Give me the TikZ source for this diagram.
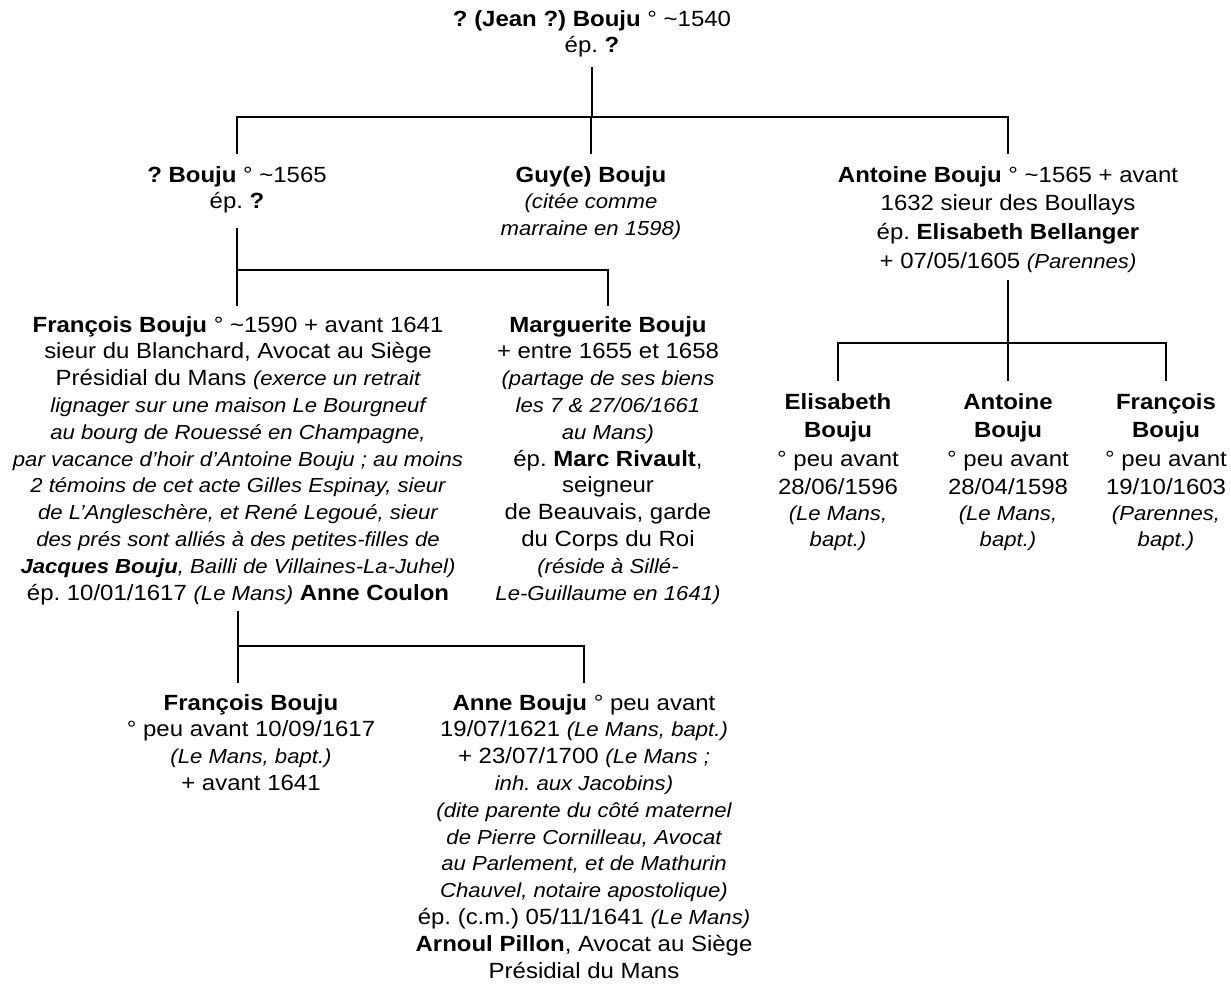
\documentclass[tikz,border=0pt]{standalone}
\usepackage{fontspec}
\setmainfont{Liberation Sans}[FakeStretch=1.09]
\usetikzlibrary{positioning}
% italic remarks in a smaller size
\newcommand{\rem}[1]{{\fontsize{20.3}{26.8}\selectfont\itshape #1}}

\begin{document}
\frenchspacing
\begin{tikzpicture}[
    x=1pt, y=-1pt,
    font=\fontsize{22}{26.8}\selectfont,
    person/.style={align=center, inner sep=0pt, anchor=north},
    loose/.style={font=\fontsize{22}{28.6}\selectfont},
    link/.style={line width=2.4pt, line cap=rect}
]
    \useasboundingbox (0,0) rectangle (1231,985);

    % generations
    \node[person] (top) at (592,10) {\textbf{? (Jean ?) Bouju} ° \textasciitilde1540\\ ép. \textbf{?}};

    \node[person] (c1) at (237,166) {\textbf{? Bouju} ° \textasciitilde1565\\ ép. \textbf{?}};
    \node[person] (c2) at (591,166) {\textbf{Guy(e) Bouju}\\ \rem{(citée comme}\\ \rem{marraine en 1598)}};
    \node[person, loose] (c3) at (1008,166) {\textbf{Antoine Bouju} ° \textasciitilde1565 + avant\\ 1632 sieur des Boullays\\
        ép. \textbf{Elisabeth Bellanger}\\[0.5pt] + 07/05/1605 \rem{(Parennes)}};

    \node[person] (g1) at (238,316) {\textbf{François Bouju} ° \textasciitilde1590 + avant 1641\\
        sieur du Blanchard, Avocat au Siège\\
        Présidial du Mans \rem{(exerce un retrait}\\
        \rem{lignager sur une maison Le Bourgneuf}\\
        \rem{au bourg de Rouessé en Champagne,}\\
        \rem{par vacance d’hoir d’Antoine Bouju ; au moins}\\
        \rem{2 témoins de cet acte Gilles Espinay, sieur}\\
        \rem{de L’Angleschère, et René Legoué, sieur}\\
        \rem{des prés sont alliés à des petites-filles de}\\
        \rem{\textbf{Jacques Bouju}, Bailli de Villaines-La-Juhel)}\\
        ép. 10/01/1617 \rem{(Le Mans)} \textbf{Anne Coulon}};
    \node[person] (g2) at (608,316) {\textbf{Marguerite Bouju}\\ + entre 1655 et 1658\\
        \rem{(partage de ses biens}\\ \rem{les 7 \& 27/06/1661}\\ \rem{au Mans)}\\
        ép. \textbf{Marc Rivault},\\ seigneur\\ de Beauvais, garde\\ du Corps du Roi\\
        \rem{(réside à Sillé-}\\ \rem{Le-Guillaume en 1641)}};

    \node[person, loose] (e1) at (838,393) {\textbf{Elisabeth}\\ \textbf{Bouju}\\ ° peu avant\\ 28/06/1596\\[-3pt] \rem{(Le Mans,}\\[-3pt] \rem{bapt.)}};
    \node[person, loose] (e2) at (1008,393) {\textbf{Antoine}\\ \textbf{Bouju}\\ ° peu avant\\ 28/04/1598\\[-3pt] \rem{(Le Mans,}\\[-3pt] \rem{bapt.)}};
    \node[person, loose] (e3) at (1166,393) {\textbf{François}\\ \textbf{Bouju}\\ ° peu avant\\ 19/10/1603\\[-3pt] \rem{(Parennes,}\\[-3pt] \rem{bapt.)}};

    \node[person] (f1) at (251,694) {\textbf{François Bouju}\\ ° peu avant 10/09/1617\\ \rem{(Le Mans, bapt.)}\\ + avant 1641};
    \node[person] (f2) at (584,694) {\textbf{Anne Bouju} ° peu avant\\ 19/07/1621 \rem{(Le Mans, bapt.)}\\
        + 23/07/1700 \rem{(Le Mans ;}\\ \rem{inh. aux Jacobins)}\\
        \rem{(dite parente du côté maternel}\\ \rem{de Pierre Cornilleau, Avocat}\\
        \rem{au Parlement, et de Mathurin}\\ \rem{Chauvel, notaire apostolique)}\\
        ép. (c.m.) 05/11/1641 \rem{(Le Mans)}\\ \textbf{Arnoul Pillon}, Avocat au Siège\\ Présidial du Mans};

    % bar levels
    \coordinate (bar0) at (0,117);
    \coordinate (bar1) at (0,270);
    \coordinate (bar2) at (0,343);
    \coordinate (bar3) at (0,646);

    % family of top
    \draw[link] ([yshift=-10pt]top.south) -- (top.south |- bar0);
    \draw[link] (c1.north |- bar0) -- (c3.north |- bar0);
    \foreach \k in {c1,c2,c3}
        \draw[link] (\k.north |- bar0) -- ([yshift=13pt]\k.north);

    % family of c1
    \draw[link] ([yshift=-15pt]c1.south) -- ([yshift=11pt]c1.south |- g1.north);
    \draw[link] (c1.south |- bar1) -| ([yshift=11pt]g2.north);

    % family of c3
    \draw[link] ([yshift=-8pt]c3.south) -- ([yshift=13pt]c3.south |- e2.north);
    \draw[link] (e1.north |- bar2) -- (e3.north |- bar2);
    \draw[link] (e1.north |- bar2) -- ([yshift=13pt]e1.north);
    \draw[link] (e3.north |- bar2) -- ([yshift=13pt]e3.north);

    % family of g1
    \draw[link] ([yshift=-7pt]g1.south) -- ([yshift=12pt]g1.south |- f1.north);
    \draw[link] (g1.south |- bar3) -| ([yshift=12pt]f2.north);
\end{tikzpicture}
\end{document}
